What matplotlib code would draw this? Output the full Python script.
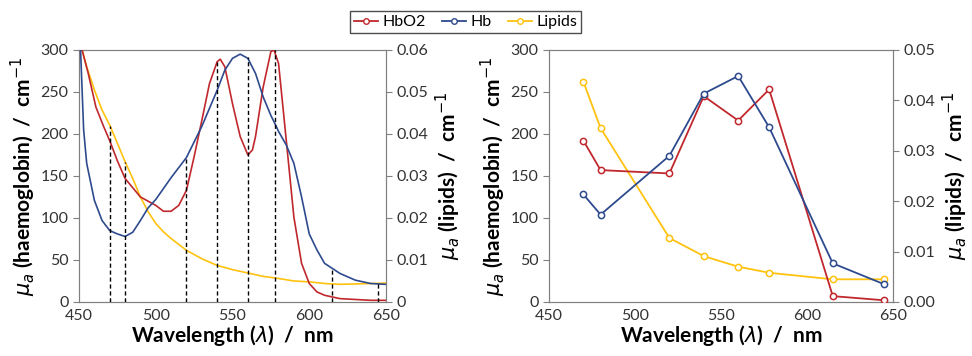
import matplotlib.pyplot as plt
from matplotlib.lines import Line2D

plt.rcParams['font.family'] = ['Lato', 'DejaVu Sans']
plt.rcParams['mathtext.fontset'] = 'dejavusans'

# full spectra (left panel)
wl_hbo2 = [452, 456, 461, 466, 470, 475, 480, 490, 500, 505, 510, 515, 520, 525, 530, 535,
           540, 542, 545, 550, 555, 560, 563, 565, 570, 575, 577, 580, 585, 590, 595, 600,
           605, 610, 620, 630, 640, 650]
hbo2 = [300, 272, 232, 209, 192, 168, 147, 125, 115, 108, 108, 115, 133, 173, 216, 260,
        286, 289, 280, 236, 197, 175, 181, 197, 256, 298, 300, 284, 193, 101, 46, 22,
        12, 8, 4, 3, 2, 2]

wl_hb = [451, 453, 455, 460, 465, 470, 475, 480, 485, 490, 495, 500, 510, 520, 530, 540,
         545, 550, 555, 560, 565, 570, 575, 578, 580, 585, 590, 595, 600, 605, 610, 615,
         620, 630, 640, 650]
hb = [300, 205, 165, 121, 97, 85, 81, 78, 83, 97, 112, 122, 148, 172, 209, 252,
      276, 290, 295, 290, 272, 244, 222, 211, 203, 187, 165, 125, 81, 62, 46, 40,
      34, 26, 22, 21]

wl_lip = [452, 455, 460, 465, 470, 475, 480, 485, 490, 495, 500, 505, 510, 520, 530, 540,
          550, 560, 570, 580, 590, 600, 610, 620, 630, 640, 650]
lipids = [0.060, 0.056, 0.0505, 0.0457, 0.0421, 0.0378, 0.0334, 0.0294, 0.025, 0.0215,
          0.0187, 0.0167, 0.0151, 0.0123, 0.0103, 0.0087, 0.0077, 0.0069, 0.0061, 0.0056,
          0.005, 0.0048, 0.0044, 0.0042, 0.0043, 0.0044, 0.0045]

# selected wavelengths (right panel + dashed markers)
sel_wl = [470, 480, 520, 540, 560, 578, 615, 645]
sel_top = [210, 167, 171, 286, 292, 300, 38, 24]
sel_hbo2 = [192, 157, 153, 245, 216, 253, 7, 2]
sel_hb = [128, 104, 174, 248, 269, 208, 46, 21]
sel_lip = [0.0437, 0.0345, 0.0127, 0.0091, 0.0070, 0.0058, 0.0045, 0.0045]

c_red = '#c0282d'
c_blue = '#2e4a8e'
c_yel = '#ffc20e'
grey = '#808080'

fs = 11.5
lab_fs = 15

fig = plt.figure(figsize=(9.72, 3.56), dpi=100)
ax1 = fig.add_axes([0.0813, 0.1517, 0.3158, 0.708])
ax2 = fig.add_axes([0.5648, 0.1517, 0.3539, 0.708])


def style(ax, tw):
    for s in ax.spines.values():
        s.set_color(grey)
    ax.tick_params(axis='y', colors=grey, labelcolor='#333333', labelsize=fs, length=4, direction='out')
    ax.tick_params(axis='x', length=0, labelcolor='#333333', labelsize=fs, pad=5)
    tw.tick_params(axis='y', colors=grey, labelcolor='#333333', labelsize=fs, length=4, direction='out')
    for s in tw.spines.values():
        s.set_color(grey)


# left panel
tw1 = ax1.twinx()
ax1.plot(wl_hbo2, hbo2, color=c_red, lw=1.2, zorder=3)
ax1.plot(wl_hb, hb, color=c_blue, lw=1.2, zorder=3)
tw1.plot(wl_lip, lipids, color=c_yel, lw=1.2)
ax1.vlines(sel_wl, 0, sel_top, colors='k', linestyles=(0, (3, 2)), lw=1.0, zorder=4)
ax1.set_xlim(450, 650)
ax1.set_ylim(0, 300)
tw1.set_ylim(0, 0.06)
ax1.set_xticks([450, 500, 550, 600, 650])
ax1.set_yticks([0, 50, 100, 150, 200, 250, 300])
tw1.set_yticks([0, 0.01, 0.02, 0.03, 0.04, 0.05, 0.06])
tw1.set_yticklabels(['0', '0.01', '0.02', '0.03', '0.04', '0.05', '0.06'])
style(ax1, tw1)

# right panel
tw2 = ax2.twinx()
mk = dict(marker='o', markersize=4.5, markerfacecolor='white', markeredgewidth=1.1, lw=1.3)
ax2.plot(sel_wl, sel_hbo2, color=c_red, zorder=3, **mk)
ax2.plot(sel_wl, sel_hb, color=c_blue, zorder=3, **mk)
tw2.plot(sel_wl, sel_lip, color=c_yel, **mk)
ax2.set_xlim(450, 650)
ax2.set_ylim(0, 300)
tw2.set_ylim(0, 0.05)
ax2.set_xticks([450, 500, 550, 600, 650])
ax2.set_yticks([0, 50, 100, 150, 200, 250, 300])
tw2.set_yticks([0, 0.01, 0.02, 0.03, 0.04, 0.05])
tw2.set_yticklabels(['0.00', '0.01', '0.02', '0.03', '0.04', '0.05'])
style(ax2, tw2)

# put twin axes behind so haemoglobin lines are on top
for ax, tw in [(ax1, tw1), (ax2, tw2)]:
    ax.set_zorder(tw.get_zorder() + 1)
    ax.patch.set_visible(False)
    ax.set_xlabel(r'Wavelength ($\lambda$)  /  nm', fontsize=lab_fs, fontweight='bold', labelpad=0)
    ax.set_ylabel(r'$\mu_a$ (haemoglobin)  /  cm$^{-1}$', fontsize=lab_fs, fontweight='bold', labelpad=2)
    tw.set_ylabel(r'$\mu_a$ (lipids)  /  cm$^{-1}$', fontsize=lab_fs, fontweight='bold', labelpad=4)

handles = [Line2D([], [], color=c, marker='o', markersize=4, markerfacecolor='white', lw=1.3)
           for c in (c_red, c_blue, c_yel)]
leg = fig.legend(handles, ['HbO2', 'Hb', 'Lipids'], loc='center', bbox_to_anchor=(0.479, 0.938),
                 ncol=3, fontsize=fs, frameon=True, fancybox=False, handlelength=1.5,
                 handletextpad=0.3, columnspacing=1.0, borderpad=0.25)
leg.get_frame().set_edgecolor('#202020')
leg.get_frame().set_linewidth(1.0)

fig.savefig('out.png', dpi=100)
